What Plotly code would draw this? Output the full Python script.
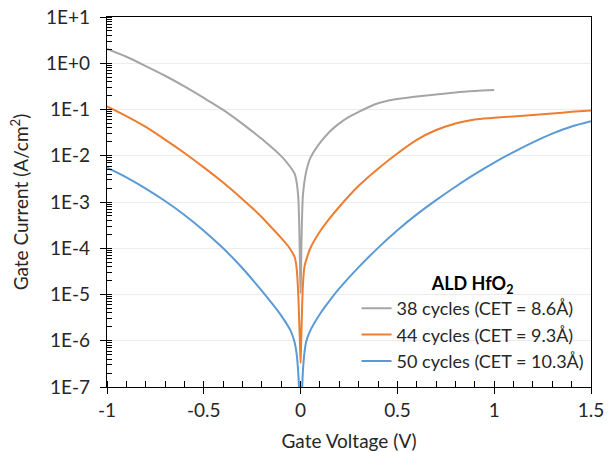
import plotly.graph_objects as go

# Gate voltage (V) and gate current density (A/cm^2)
v_38 = [-1.0, -0.9, -0.8, -0.7, -0.6, -0.5, -0.4, -0.3, -0.2, -0.1, -0.05, -0.03, -0.02, -0.012,
        -0.007, -0.004, -0.002, 0.0, 0.002, 0.004, 0.007, 0.012, 0.02, 0.031, 0.05, 0.1, 0.15,
        0.2, 0.25, 0.3, 0.35, 0.4, 0.45, 0.5, 0.6, 0.7, 0.8, 0.9, 1.0]
i_38 = [2.04, 1.38, 0.87, 0.537, 0.316, 0.178, 9.8e-2, 4.9e-2, 2.3e-2, 9.8e-3, 5.5e-3, 4.0e-3,
        2.6e-3, 1.26e-3, 3.2e-4, 6.3e-5, 2.0e-5, 1.07e-5, 2.5e-5, 1.0e-4, 4.0e-4, 1.4e-3, 2.8e-3,
        5.0e-3, 8.9e-3, 1.9e-2, 3.3e-2, 5.0e-2, 6.9e-2, 8.9e-2, 0.112, 0.136, 0.155, 0.168, 0.19,
        0.211, 0.234, 0.251, 0.264]

v_44 = [-1.0, -0.9, -0.8, -0.7, -0.6, -0.5, -0.4, -0.3, -0.2, -0.15, -0.1, -0.06, -0.03, -0.02,
        -0.012, -0.007, -0.003, 0.0, 0.003, 0.007, 0.012, 0.02, 0.033, 0.05, 0.1, 0.15, 0.2, 0.3,
        0.4, 0.5, 0.6, 0.7, 0.8, 0.85, 0.9, 1.0, 1.1, 1.2, 1.3, 1.4, 1.5]
i_44 = [0.117, 7.2e-2, 4.2e-2, 2.24e-2, 1.15e-2, 5.6e-3, 2.63e-3, 1.15e-3, 4.7e-4, 2.8e-4,
        1.66e-4, 1.05e-4, 6.3e-5, 3.5e-5, 1.0e-5, 2.5e-6, 7.9e-7, 3.3e-7, 1.0e-6, 4.0e-6, 1.6e-5,
        4.0e-5, 6.3e-5, 1.0e-4, 2.3e-4, 4.4e-4, 7.9e-4, 2.24e-3, 5.25e-3, 1.12e-2, 2.2e-2, 3.6e-2,
        5.0e-2, 5.6e-2, 6.1e-2, 6.6e-2, 7.1e-2, 7.6e-2, 8.2e-2, 8.9e-2, 9.5e-2]

v_50 = [-1.0, -0.9, -0.8, -0.7, -0.6, -0.5, -0.4, -0.3, -0.2, -0.15, -0.1, -0.05, -0.03, -0.02,
        -0.012, -0.006, 0.0, 0.006, 0.012, 0.02, 0.03, 0.05, 0.1, 0.15, 0.2, 0.3, 0.4, 0.5, 0.6,
        0.7, 0.8, 0.9, 1.0, 1.1, 1.2, 1.3, 1.4, 1.5]
i_50 = [5.5e-3, 3.4e-3, 1.95e-3, 1.05e-3, 5.25e-4, 2.4e-4, 1.0e-4, 3.7e-5, 1.2e-5, 6.6e-6, 3.5e-6,
        1.6e-6, 8.9e-7, 5.0e-7, 2.0e-7, 6.3e-8, 3.2e-8, 6.3e-8, 2.2e-7, 5.6e-7, 1.0e-6, 1.66e-6,
        3.8e-6, 7.4e-6, 1.35e-5, 3.9e-5, 1.02e-4, 2.45e-4, 5.4e-4, 1.1e-3, 2.14e-3, 4.0e-3, 7.1e-3,
        1.2e-2, 1.95e-2, 3.0e-2, 4.3e-2, 5.6e-2]

series_names = ["38 cycles (CET = 8.6Å)", "44 cycles (CET = 9.3Å)", "50 cycles (CET = 10.3Å)"]
series_colors = ["#A5A5A5", "#ED7D31", "#5B9BD5"]

y_tickvals = [1e1, 1e0, 1e-1, 1e-2, 1e-3, 1e-4, 1e-5, 1e-6, 1e-7]
y_ticktext = ["1E+1", "1E+0", "1E-1", "1E-2", "1E-3", "1E-4", "1E-5", "1E-6", "1E-7"]
x_tickvals = [-1, -0.5, 0, 0.5, 1, 1.5]
x_ticktext = ["-1", "-0.5", "0", "0.5", "1", "1.5"]

# minor tick positions (axis furniture): every 0.1 V, and 1..9 x each decade
x_minor = [round(-1 + 0.1 * k, 2) for k in range(26)]
y_minor = [m * 10.0 ** e for e in range(-7, 1) for m in range(1, 10)] + [10.0]

FONT = "Lato, Open Sans, sans-serif"
TXT = "#262626"

fig = go.Figure()
for v, i, name, col in zip([v_38, v_44, v_50], [i_38, i_44, i_50], series_names, series_colors):
    fig.add_trace(go.Scatter(x=v, y=i, mode="lines", name=name,
                             line=dict(color=col, width=2, shape="spline", smoothing=0.8)))

# white panel behind the legend: hides gridlines, stays under the curves
fig.add_shape(type="rect", xref="paper", yref="paper", x0=0.48, x1=0.996, y0=0.03, y1=0.335,
              fillcolor="white", line=dict(width=0), layer="below")

fig.update_layout(
    width=608, height=452,
    margin=dict(l=107, r=17, t=17, b=65, autoexpand=False),
    paper_bgcolor="white", plot_bgcolor="white",
    font=dict(family=FONT, size=19, color=TXT),
    showlegend=True,
    legend=dict(
        x=0.997, xanchor="right", y=0.02, yanchor="bottom",
        bgcolor="rgba(255,255,255,0)", borderwidth=0,
        font=dict(family=FONT, size=18, color=TXT),
        title=dict(text="<b>ALD HfO<sub>2</sub></b>", side="top center",
                   font=dict(family=FONT, size=18, color="#000")),
        itemwidth=30, tracegroupgap=0,
    ),
)

fig.update_xaxes(
    range=[-1, 1.5], tickvals=x_tickvals, ticktext=x_ticktext, automargin=False,
    showline=True, linecolor="#000", linewidth=1.3, mirror=True,
    ticks="outside", ticklen=6, tickcolor="#000", tickwidth=1.3,
    minor=dict(ticks="inside", tickmode="array", tickvals=x_minor, ticklen=6,
               tickcolor="#000", tickwidth=1, showgrid=False),
    showgrid=False, zeroline=False,
    tickfont=dict(size=19, color=TXT),
    title=dict(text="Gate Voltage (V)", font=dict(size=19, color=TXT)),
)

fig.update_yaxes(
    type="log", range=[-7, 1], tickvals=y_tickvals, ticktext=y_ticktext, automargin=False,
    showline=True, linecolor="#000", linewidth=1.3, mirror=True,
    ticks="outside", ticklen=6, tickcolor="#000", tickwidth=1.3, ticklabelstandoff=6,
    minor=dict(ticks="inside", tickmode="array", tickvals=y_minor, ticklen=5,
               tickcolor="#000", tickwidth=1, showgrid=False),
    showgrid=True, gridcolor="#ECECEC", gridwidth=1, zeroline=False,
    tickfont=dict(size=19, color=TXT),
    title=dict(text="Gate Current (A/cm<sup>2</sup>)", font=dict(size=19, color=TXT), standoff=12),
)

fig.write_html("out.html", config={"displayModeBar": False},
               post_script="document.body.style.margin='0';")
